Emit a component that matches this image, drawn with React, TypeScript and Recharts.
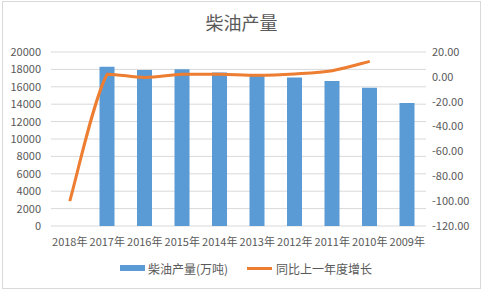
import React from 'react';
import { ComposedChart, Bar, Line, XAxis, YAxis, CartesianGrid, Legend } from 'recharts';

const years = ['2018年', '2017年', '2016年', '2015年', '2014年', '2013年', '2012年', '2011年', '2010年', '2009年'];
const output = [0, 18303, 17918, 18008, 17635, 17273, 17064, 16676, 15888, 14127];
const growth: (number | null)[] = [-100, 2.15, -0.5, 2.12, 2.1, 1.22, 2.33, 4.96, 12.47, null];
const leftTicks = [0, 2000, 4000, 6000, 8000, 10000, 12000, 14000, 16000, 18000, 20000];
const rightTicks = [-120, -100, -80, -60, -40, -20, 0, 20];

const data = years.map((y, i) => ({ year: y, output: output[i], growth: growth[i] }));

const FONT = '"Noto Sans CJK SC", "Noto Sans", sans-serif';
const TXT = '#595959';

// Excel-like smoothed line: Catmull-Rom segments with control points clamped to avoid overshoot
const smoothCurve = (context: any) => {
  let pts: number[][] = [];
  const clamp = (v: number, a: number, b: number) => Math.max(Math.min(a, b), Math.min(Math.max(a, b), v));
  return {
    areaStart() {},
    areaEnd() {},
    lineStart() { pts = []; },
    point(x: number, y: number) { pts.push([+x, +y]); },
    lineEnd() {
      if (!pts.length) return;
      context.moveTo(pts[0][0], pts[0][1]);
      for (let i = 0; i < pts.length - 1; i++) {
        const p0 = pts[i - 1] || pts[i];
        const p1 = pts[i];
        const p2 = pts[i + 1];
        const p3 = pts[i + 2] || p2;
        const c1x = p1[0] + (p2[0] - p0[0]) / 6;
        const c1y = clamp(p1[1] + (p2[1] - p0[1]) / 6, p1[1], p2[1]);
        const c2x = p2[0] - (p3[0] - p1[0]) / 6;
        const c2y = clamp(p2[1] - (p3[1] - p1[1]) / 6, p1[1], p2[1]);
        context.bezierCurveTo(c1x, c1y, c2x, c2y, p2[0], p2[1]);
      }
    },
  };
};

const LegendContent = () => (
  <div style={{ display: 'flex', justifyContent: 'center', alignItems: 'center', fontFamily: FONT, fontSize: 12, color: TXT, height: 20, marginTop: 6, marginLeft: 12 }}>
    <span style={{ display: 'inline-block', width: 25, height: 6, background: '#5B9BD5', marginRight: 3 }} />
    <span style={{ marginRight: 19 }}>柴油产量(万吨)</span>
    <span style={{ display: 'inline-block', width: 25, height: 3, background: '#ED7D31', marginRight: 4 }} />
    <span>同比上一年度增长</span>
  </div>
);

export default function App() {
  return (
    <div style={{ position: 'absolute', left: 0, top: 0, width: 483, height: 291, background: '#fff' }}>
      <div style={{ position: 'absolute', left: 2, top: 1, width: 479, height: 288, border: '1px solid #d9d9d9', boxSizing: 'border-box' }} />
      <div style={{ position: 'absolute', left: 0, width: 483, top: 9, textAlign: 'center', fontFamily: FONT, fontSize: 18, color: TXT }}>柴油产量</div>
      <div style={{ position: 'absolute', left: 0, top: 0 }}>
        <ComposedChart width={483} height={291} data={data} margin={{ top: 52, right: 3, bottom: 9, left: 0 }} barCategoryGap={0}>
          <CartesianGrid vertical={false} stroke="#d9d9d9" yAxisId="left" />
          <XAxis dataKey="year" axisLine={false} tickLine={false} tick={{ fill: TXT, fontSize: 11, fontFamily: FONT }} interval={0} height={26} tickMargin={6} />
          <YAxis yAxisId="left" domain={[0, 20000]} ticks={leftTicks} interval={0} axisLine={false} tickLine={false} width={51} tick={{ fill: TXT, fontSize: 11, fontFamily: FONT }} tickMargin={4} />
          <YAxis yAxisId="right" orientation="right" domain={[-120, 20]} ticks={rightTicks} interval={0} axisLine={false} tickLine={false} width={54} tickFormatter={(v: number) => v.toFixed(2)} tick={{ fill: TXT, fontSize: 11, fontFamily: FONT }} tickMargin={0} />
          <Bar yAxisId="left" dataKey="output" name="柴油产量(万吨)" fill="#5B9BD5" barSize={15} isAnimationActive={false} />
          <Line yAxisId="right" dataKey="growth" name="同比上一年度增长" type={smoothCurve as any} stroke="#ED7D31" strokeWidth={3} dot={false} connectNulls={false} isAnimationActive={false} />
          <Legend verticalAlign="bottom" height={30} content={<LegendContent />} />
        </ComposedChart>
      </div>
    </div>
  );
}
